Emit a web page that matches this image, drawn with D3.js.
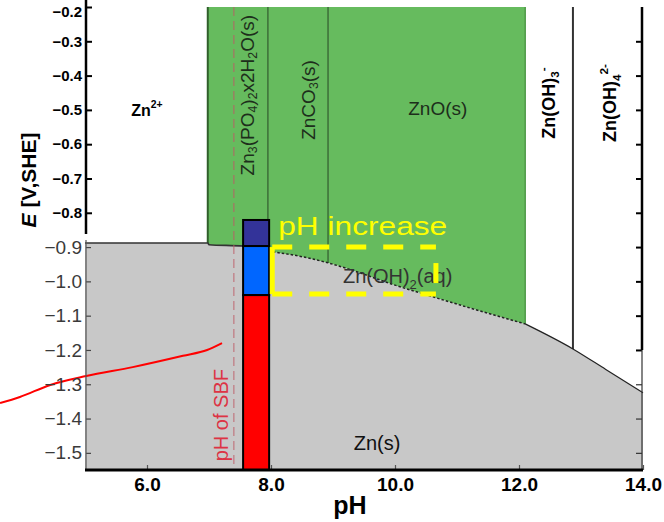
<!DOCTYPE html>
<html>
<head>
<meta charset="utf-8">
<script src="https://cdn.jsdelivr.net/npm/d3@7/dist/d3.min.js"></script>
<style>
  html, body { margin: 0; padding: 0; background: #fff; }
  svg { display: block; font-family: "Liberation Sans", Arial, sans-serif; }
</style>
</head>
<body>
<svg id="chart" width="664" height="522"></svg>
<script>
// Pourbaix (E–pH) diagram of zinc in simulated body fluid

// axis ticks
const xTickValues = [6, 8, 10, 12, 14];
const xTickLabels = ["6.0", "8.0", "10.0", "12.0", "14.0"];
const yTicksUpper = [-0.2, -0.3, -0.4, -0.5, -0.6, -0.7, -0.8];
const yTicksLower = [-0.9, -1.0, -1.1, -1.2, -1.3, -1.4, -1.5];
const rightTicks = [-0.3, -0.4, -0.5, -0.6, -0.7, -0.8, -0.9, -1.0, -1.1, -1.2, -1.3, -1.4, -1.5];

// Zn(s) stability limit (pH, E in V vs SHE)
const boundaryPH = [5.0, 6.98, 7.0, 7.55, 8.03, 8.5, 8.9, 9.3, 10.0, 10.52, 11.05, 12.1, 12.87, 13.4, 14.0];
const boundaryE  = [-0.888, -0.888, -0.893, -0.897, -0.914, -0.928, -0.945, -0.967, -1.011, -1.040, -1.069, -1.124, -1.197, -1.257, -1.325];

// vertical phase limits (pH)
const solidStart = 6.98;          // Zn2+ | Zn3(PO4)2·2H2O
const phosphateCarbonate = 7.95;  // Zn3(PO4)2·2H2O | ZnCO3
const carbonateOxide = 8.92;      // ZnCO3 | ZnO
const solidEnd = 12.1;            // ZnO | Zn(OH)3-
const zincateLimit = 12.87;       // Zn(OH)3- | Zn(OH)4 2-
const sbfPH = 7.4;

// measured corrosion potential vs pH
const curvePH = [3.63, 3.95, 4.44, 5.02, 5.77, 6.58, 6.97, 7.21];
const curveE  = [-1.355, -1.337, -1.302, -1.276, -1.250, -1.217, -1.200, -1.180];

// stacked potential bar: edges from top to bottom, and its pH span
const barEdges = [-0.821, -0.897, -1.040, -1.55];
const barPH = [7.55, 7.97];
const barColors = ["#333399", "#0066ff", "#ff0000"];

// highlighted window (pH range, E range)
const windowPH = [8.02, 10.66];
const windowE = [-0.900, -1.037];

const svg = d3.select("#chart");
const x = d3.scaleLinear().domain([5, 14]).range([85, 643]);
const y = d3.scaleLinear().domain([-0.2, -1.55]).range([7, 470]);

const boundary = boundaryPH.map((p, i) => ({ pH: p, E: boundaryE[i] }));

// Zn(s) region
svg.append("path")
  .datum(boundary)
  .attr("fill", "#c8c8c8")
  .attr("d", d3.area().curve(d3.curveMonotoneX)
    .x(d => x(d.pH)).y0(y(-1.55)).y1(d => y(d.E)));

// solid corrosion products region
const solids = boundary.filter(d => d.pH >= solidStart && d.pH <= solidEnd);
svg.append("path")
  .datum(solids)
  .attr("fill", "#66bb5e")
  .attr("d", d3.area().curve(d3.curveMonotoneX)
    .x(d => x(d.pH)).y0(y(-0.2)).y1(d => y(d.E)));

const eAt = p => {
  const i = d3.bisectLeft(boundaryPH, p);
  if (i <= 0) return boundaryE[0];
  const t = (p - boundaryPH[i - 1]) / (boundaryPH[i] - boundaryPH[i - 1]);
  return boundaryE[i - 1] + t * (boundaryE[i] - boundaryE[i - 1]);
};

// phase dividers
const dividers = [
  { pH: solidStart, color: "#2f5f2a", w: 2 },
  { pH: phosphateCarbonate, color: "#3d6e38", w: 1.5 },
  { pH: carbonateOxide, color: "#3d6e38", w: 1.5 },
  { pH: solidEnd, color: "#4f9a48", w: 1.5 },
  { pH: zincateLimit, color: "#333", w: 2 }
];
svg.selectAll("line.div").data(dividers).join("line")
  .attr("x1", d => x(d.pH)).attr("x2", d => x(d.pH))
  .attr("y1", y(-0.2)).attr("y2", d => y(eAt(d.pH)))
  .attr("stroke", d => d.color).attr("stroke-width", d => d.w);

// limit line: solid / dotted / solid segments
const lineGen = d3.line().curve(d3.curveMonotoneX).x(d => x(d.pH)).y(d => y(d.E));
svg.append("path").datum(boundary.filter(d => d.pH <= 8.03))
  .attr("fill", "none").attr("stroke", "#333").attr("stroke-width", 1.6).attr("d", lineGen);
svg.append("path").datum(boundary.filter(d => d.pH >= 8.03 && d.pH <= solidEnd))
  .attr("fill", "none").attr("stroke", "#222").attr("stroke-width", 1.5)
  .attr("stroke-dasharray", "2.5,2").attr("d", lineGen);
svg.append("path").datum(boundary.filter(d => d.pH >= solidEnd))
  .attr("fill", "none").attr("stroke", "#222").attr("stroke-width", 1.2).attr("d", lineGen);

// pH of SBF marker
svg.append("line")
  .attr("x1", x(sbfPH)).attr("x2", x(sbfPH))
  .attr("y1", y(-0.2)).attr("y2", y(-1.55))
  .attr("stroke", "rgba(190,90,100,0.55)").attr("stroke-width", 1.6)
  .attr("stroke-dasharray", "9,5");

// corrosion potential curve
svg.append("path")
  .datum(curvePH.map((p, i) => ({ pH: p, E: curveE[i] })))
  .attr("fill", "none").attr("stroke", "#ff0000").attr("stroke-width", 2)
  .attr("d", lineGen);

// stacked bar
const segs = barColors.map((c, i) => ({ top: barEdges[i], bottom: barEdges[i + 1], color: c }));
svg.selectAll("rect.seg").data(segs).join("rect")
  .attr("x", x(barPH[0])).attr("width", x(barPH[1]) - x(barPH[0]))
  .attr("y", d => y(d.top)).attr("height", d => y(d.bottom) - y(d.top))
  .attr("fill", d => d.color).attr("stroke", "#000").attr("stroke-width", 2);

// text helper with sub/superscripts
function rich(g, parts, size) {
  let shift = 0;
  parts.forEach(([t, kind]) => {
    const target = kind === "sub" ? size * 0.3 : kind === "sup" ? -size * 0.38 : 0;
    const ts = g.append("tspan").text(t).attr("dy", target - shift);
    if (kind) ts.attr("font-size", size * 0.65);
    shift = target;
  });
}
function label(px, py, parts, opts) {
  const t = svg.append("text")
    .attr("transform", `translate(${px},${py})` + (opts.rotate ? " rotate(-90)" : ""))
    .attr("text-anchor", opts.anchor || "middle")
    .attr("dominant-baseline", opts.baseline || "central")
    .attr("font-size", opts.size)
    .attr("font-weight", opts.bold ? "bold" : "normal")
    .attr("fill", opts.color || "#000");
  if (opts.length) t.attr("textLength", opts.length).attr("lengthAdjust", "spacingAndGlyphs");
  rich(t, parts, opts.size);
  return t;
}

label(x(6.0), y(-0.50), [["Zn"], ["2+", "sup"]], { size: 16, bold: true });
label(x(7.61), y(-0.457), [["Zn"], ["3", "sub"], ["(PO"], ["4", "sub"], [")"], ["2", "sub"], ["x2H"], ["2", "sub"], ["O(s)"]],
  { size: 19, rotate: true, color: "#1d2e1b" });
label(x(8.6), y(-0.471), [["ZnCO"], ["3", "sub"], ["(s)"]], { size: 19, rotate: true, color: "#1d2e1b" });
label(x(10.69), y(-0.494), [["ZnO(s)"]], { size: 19, color: "#1d2e1b" });
label(x(12.48), y(-0.48), [["Zn(OH)"], ["3", "sub"], ["-", "sup"]], { size: 18, bold: true, rotate: true });
label(x(13.47), y(-0.48), [["Zn(OH)"], ["4", "sub"], ["2-", "sup"]], { size: 18, bold: true, rotate: true });
label(x(9.16), y(-1.005), [["Zn(OH)"], ["2", "sub"], ["(aq)"]], { size: 20, anchor: "start", baseline: "auto", color: "#333" });
label(x(9.71), y(-1.471), [["Zn(s)"]], { size: 20, color: "#111" });
label(x(7.2), y(-1.39), [["pH of SBF"]], { size: 20, rotate: true, color: "#dd3344" });

// highlighted window
const wx0 = x(windowPH[0]), wx1 = x(windowPH[1]), wy0 = y(windowE[0]), wy1 = y(windowE[1]);
const win = svg.append("g").attr("stroke", "#ffff00").attr("stroke-width", 5).attr("fill", "none");
win.append("line").attr("x1", wx0).attr("x2", wx0).attr("y1", wy0).attr("y2", wy1);
win.append("line").attr("x1", wx0).attr("x2", wx1).attr("y1", wy0).attr("y2", wy0).attr("stroke-dasharray", "20,17");
win.append("line").attr("x1", wx0).attr("x2", wx1).attr("y1", wy1).attr("y2", wy1).attr("stroke-dasharray", "20,17");
win.append("line").attr("x1", wx1).attr("x2", wx1).attr("y1", wy0 + 16).attr("y2", wy1 - 11);
label(wx0 + 6, y(-0.866), [["pH increase"]], { size: 25, anchor: "start", baseline: "auto", color: "#ffff00", length: 169 });

// ----- axes -----
// left axis, upper part
const axL1 = svg.append("g").attr("transform", `translate(86,0)`)
  .call(d3.axisLeft(y).tickValues(yTicksUpper).tickSizeInner(-6).tickSizeOuter(0).tickPadding(4)
    .tickFormat(d3.format(".1f")));
axL1.select(".domain").remove();
axL1.selectAll(".tick line").attr("stroke", "#000").attr("stroke-width", 2).attr("x1", -1);
axL1.selectAll(".tick text").attr("font-size", 15).attr("font-weight", "bold").attr("fill", "#000")
  .attr("font-family", "Liberation Sans, Arial, sans-serif")
  .attr("dy", d => d === -0.2 ? "0.65em" : "0.32em");
svg.append("line").attr("x1", 86).attr("x2", 86).attr("y1", 0).attr("y2", 234)
  .attr("stroke", "#000").attr("stroke-width", 2.5);

// left axis, lower part
const axL2 = svg.append("g").attr("transform", `translate(86,0)`)
  .call(d3.axisLeft(y).tickValues(yTicksLower).tickSizeInner(-5).tickSizeOuter(0).tickPadding(4)
    .tickFormat(d3.format(".1f")));
axL2.select(".domain").remove();
axL2.selectAll(".tick line").attr("stroke", "#444").attr("stroke-width", 1.2);
axL2.selectAll(".tick text").attr("font-size", 19).attr("fill", "#3a3a3a")
  .attr("font-family", "Liberation Sans, Arial, sans-serif");
svg.append("line").attr("x1", 86).attr("x2", 86).attr("y1", 240).attr("y2", 470)
  .attr("stroke", "#555").attr("stroke-width", 1.2);

// right axis
const axR = svg.append("g").attr("transform", `translate(642,0)`)
  .call(d3.axisLeft(y).tickValues(rightTicks).tickSizeInner(6).tickSizeOuter(0).tickFormat(""));
axR.select(".domain").remove();
axR.selectAll(".tick line")
  .attr("stroke", d => d >= -1.2 ? "#000" : "#333")
  .attr("stroke-width", d => d >= -1.2 ? 2 : 1.2);
svg.append("line").attr("x1", 642).attr("x2", 642).attr("y1", 7).attr("y2", y(-1.2))
  .attr("stroke", "#000").attr("stroke-width", 2.5);
svg.append("line").attr("x1", 642).attr("x2", 642).attr("y1", y(-1.2)).attr("y2", 470)
  .attr("stroke", "#333").attr("stroke-width", 1.2);

// bottom axis
const axB = svg.append("g").attr("transform", `translate(0,470)`)
  .call(d3.axisBottom(x).tickValues(xTickValues).tickSizeInner(-5).tickSizeOuter(0).tickPadding(8)
    .tickFormat((d, i) => xTickLabels[i]));
axB.select(".domain").remove();
axB.selectAll(".tick line").attr("stroke", "#555").attr("stroke-width", 1.2);
axB.selectAll(".tick text").attr("font-size", 19).attr("font-weight", "bold").attr("fill", "#000")
  .attr("font-family", "Liberation Sans, Arial, sans-serif");
svg.append("line").attr("x1", 85).attr("x2", 643).attr("y1", 470).attr("y2", 470)
  .attr("stroke", "#000").attr("stroke-width", 3);

// axis titles
svg.append("text").attr("x", 350).attr("y", 514).attr("text-anchor", "middle")
  .attr("font-size", 25).attr("font-weight", "bold").text("pH");
const yt = svg.append("text").attr("transform", "translate(36,180) rotate(-90)")
  .attr("text-anchor", "middle").attr("font-size", 21).attr("font-weight", "bold");
yt.append("tspan").attr("font-style", "italic").text("E");
yt.append("tspan").text(" [V,SHE]");
</script>
</body>
</html>
